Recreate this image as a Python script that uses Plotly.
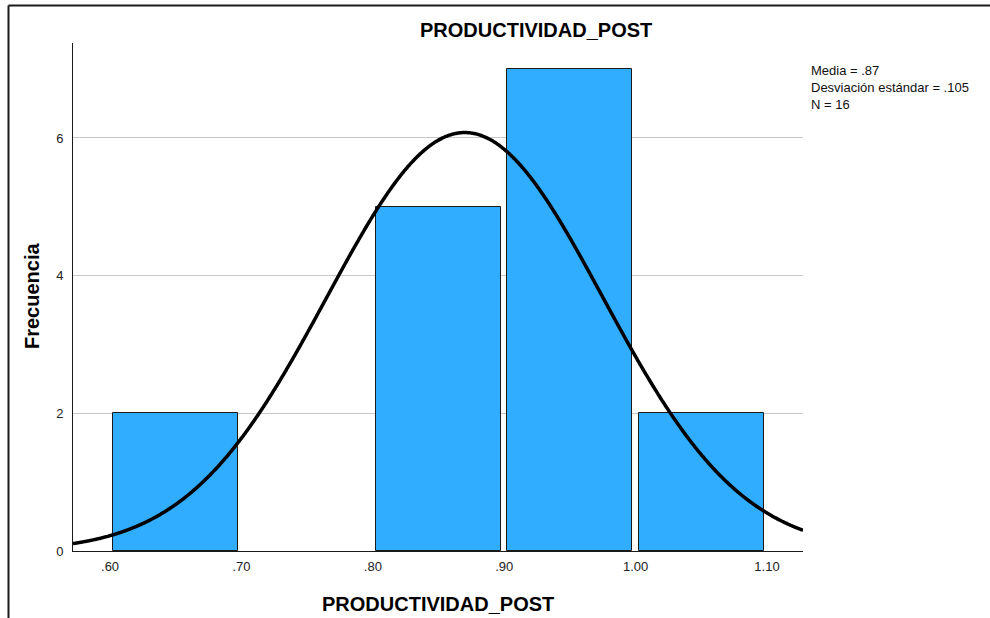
import numpy as np
import plotly.graph_objects as go

# ---- data ----
bin_centers = [0.65, 0.85, 0.95, 1.05]
frequencies = [2, 5, 7, 2]
bin_width = 0.10
mean_val = 0.87
sd_val = 0.105
n_val = 16
x_tickvals = [0.60, 0.70, 0.80, 0.90, 1.00, 1.10]
x_ticktext = [".60", ".70", ".80", ".90", "1.00", "1.10"]
y_tickvals = [0, 2, 4, 6]
title_text = "PRODUCTIVIDAD_POST"
x_title = "PRODUCTIVIDAD_POST"
y_title = "Frecuencia"
stats_lines = ["Media = .87", "Desviación estándar = .105", "N = 16"]

# ---- layout geometry (pixels) ----
W, H = 990, 618
L, R, T, B = 73, 803, 43, 551
pw, ph = R - L, B - T
xr = [0.5718, 1.1274]
yr = [0, 7.38]

def px_x(p):
    return (p - L) / pw

def px_y(p):
    return (B - p) / ph

FONT = "Liberation Sans, Arial, sans-serif"

fig = go.Figure()

fig.add_trace(go.Bar(
    x=bin_centers, y=frequencies, width=bin_width * 0.952,
    marker=dict(color="#30ADFF", line=dict(color="#1a1a1a", width=1)),
    hoverinfo="x+y", showlegend=False,
))

# normal curve from stated mean / sd / N
cx = np.linspace(xr[0], xr[1], 800)
cy = n_val * bin_width / (sd_val * np.sqrt(2 * np.pi)) * np.exp(-0.5 * ((cx - mean_val) / sd_val) ** 2)
fig.add_trace(go.Scatter(
    x=cx, y=cy, mode="lines", line=dict(color="black", width=3.5, shape="spline"),
    hoverinfo="skip", showlegend=False,
))

fig.update_layout(
    width=W, height=H,
    margin=dict(l=L, r=W - R, t=T, b=H - B, pad=0),
    paper_bgcolor="white", plot_bgcolor="white",
    font=dict(family=FONT, color="#222222", size=13),
    bargap=0,
    xaxis=dict(
        range=xr, tickmode="array", tickvals=x_tickvals, ticktext=x_ticktext,
        showgrid=False, zeroline=False, showline=True, linecolor="#1a1a1a", linewidth=1,
        ticks="", ticklabelstandoff=3, tickfont=dict(size=13, color="#222222"),
    ),
    yaxis=dict(
        range=yr, tickmode="array", tickvals=y_tickvals,
        showgrid=True, gridcolor="#c8c8c8", gridwidth=1,
        zeroline=False, showline=True, linecolor="#1a1a1a", linewidth=1,
        ticks="", ticklabelstandoff=6, tickfont=dict(size=13, color="#222222"),
    ),
)

annotations = [
    dict(text="<b>%s</b>" % title_text, xref="paper", yref="paper",
         x=px_x(536), y=px_y(30), xanchor="center", yanchor="middle",
         showarrow=False, font=dict(size=20, color="#000000", family=FONT)),
    dict(text="<b>%s</b>" % x_title, xref="paper", yref="paper",
         x=px_x(438), y=px_y(604), xanchor="center", yanchor="middle",
         showarrow=False, font=dict(size=20, color="#000000", family=FONT)),
    dict(text="<b>%s</b>" % y_title, xref="paper", yref="paper",
         x=px_x(32), y=px_y(296), xanchor="center", yanchor="middle", textangle=-90,
         showarrow=False, font=dict(size=20, color="#000000", family=FONT)),
    dict(text="<br>".join(stats_lines), xref="paper", yref="paper",
         x=px_x(809), y=px_y(88), xanchor="left", yanchor="middle", align="left",
         showarrow=False, font=dict(size=13, color="#111111", family=FONT)),
]
fig.update_layout(annotations=annotations)

# outer frame (top and left edges)
fig.add_shape(type="line", xref="paper", yref="paper",
              x0=px_x(8.5), x1=px_x(W + 5), y0=px_y(5.5), y1=px_y(5.5),
              line=dict(color="#1a1a1a", width=2))
fig.add_shape(type="line", xref="paper", yref="paper",
              x0=px_x(8.5), x1=px_x(8.5), y0=px_y(5.5), y1=px_y(H + 5),
              line=dict(color="#1a1a1a", width=2))

fig.write_html("out.html")
